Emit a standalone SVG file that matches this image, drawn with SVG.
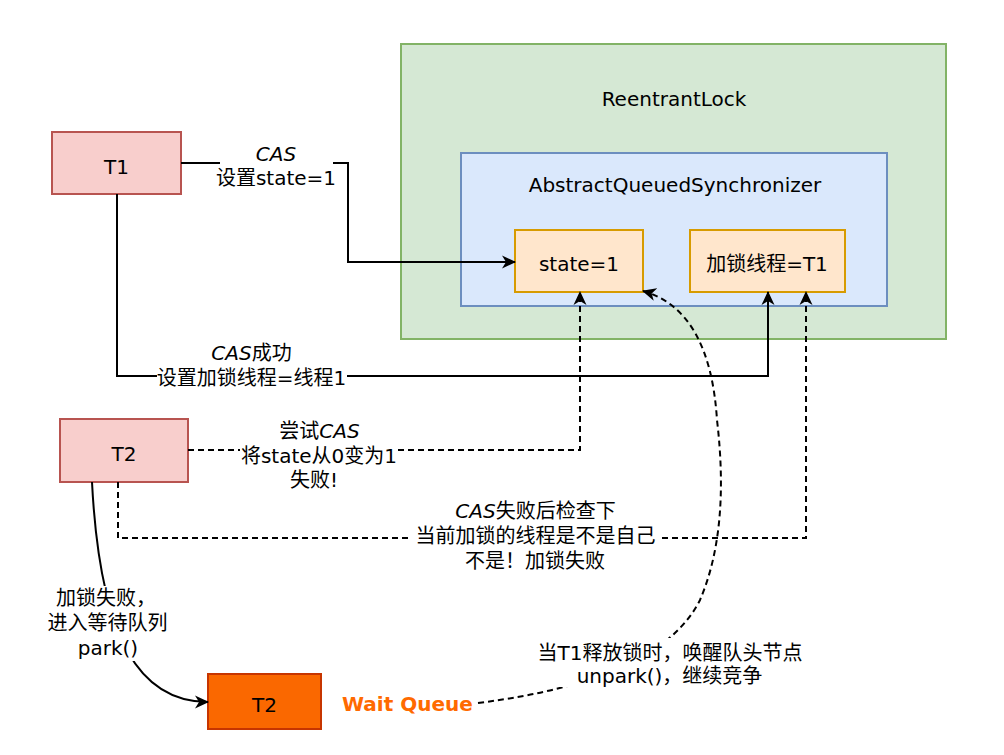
<svg xmlns="http://www.w3.org/2000/svg" width="1004" height="755" viewBox="0 0 1004 755">
<defs>
<style>
text{font-family:"DejaVu Sans","Noto Sans CJK SC",sans-serif;font-size:20px;fill:#000;text-anchor:middle}
.i{font-style:italic}
.ln{fill:none;stroke:#000;stroke-width:2}
.d{stroke-dasharray:6 4}
.bg{fill:#fff}
.wq{fill:#FF6A00;font-weight:bold;text-anchor:start}
</style>
<marker id="ar" viewBox="0 0 14 14" refX="13" refY="7" markerWidth="14" markerHeight="14" markerUnits="userSpaceOnUse" orient="auto">
<path d="M0,0.5 L14,7 L0,13.5 L4,7 Z" fill="#000"/>
</marker>
</defs>
<rect width="1004" height="755" fill="#fff"/>
<g id="reentrantlock">
<rect x="401" y="44" width="545" height="295" fill="#d5e8d4" stroke="#82b366" stroke-width="2"/>
<text x="674" y="106">ReentrantLock</text>
</g>
<g id="aqs">
<rect x="461" y="153" width="426" height="153" fill="#dae8fc" stroke="#6c8ebf" stroke-width="2"/>
<text x="675" y="192">AbstractQueuedSynchronizer</text>
</g>
<g id="state">
<rect x="515" y="230" width="128" height="62" fill="#ffe6cc" stroke="#d79b00" stroke-width="2"/>
<text x="579" y="271">state=1</text>
</g>
<g id="owner">
<rect x="690" y="230" width="155" height="62" fill="#ffe6cc" stroke="#d79b00" stroke-width="2"/>
<text x="767" y="271">加锁线程=T1</text>
</g>
<g id="t1">
<rect x="52" y="132" width="129" height="62" fill="#f8cecc" stroke="#b85450" stroke-width="2"/>
<text x="116.5" y="174">T1</text>
</g>
<g id="t2">
<rect x="60" y="419" width="128" height="63" fill="#f8cecc" stroke="#b85450" stroke-width="2"/>
<text x="124" y="461">T2</text>
</g>
<g id="t2queue">
<rect x="208" y="674" width="113" height="55" fill="#fa6800" stroke="#C73500" stroke-width="2"/>
<text x="264.5" y="712">T2</text>
</g>
<g id="waitqueue">
<text class="wq" x="342" y="711">Wait Queue</text>
</g>
<g id="connectors">
<path class="ln" d="M181,163 H348 V262 H515" marker-end="url(#ar)"/>
<path class="ln" d="M117,194 V376 H768 V292" marker-end="url(#ar)"/>
<path class="ln d" d="M188,450 H580 V292" marker-end="url(#ar)"/>
<path class="ln d" d="M118,482 V538 H806 V292" marker-end="url(#ar)"/>
<path class="ln" d="M92,482 C100,640 140,702 208,702" marker-end="url(#ar)"/>
<path class="ln d" d="M478,703 Q660,680 700,600 Q730,530 717,420 Q710,310 643,291" marker-end="url(#ar)"/>

<rect class="bg" x="220" y="142" width="113" height="48"/>
<text x="276" y="161"><tspan class="i">CAS</tspan></text>
<text x="276" y="185">设置state=1</text>

<rect class="bg" x="157" y="341" width="190" height="49"/>
<text x="251.5" y="360"><tspan class="i">CAS</tspan>成功</text>
<text x="251.5" y="385">设置加锁线程=线程1</text>

<rect class="bg" x="240" y="418" width="158" height="74"/>
<text x="319.5" y="438">尝试<tspan class="i">CAS</tspan></text>
<text x="319" y="463">将state从0变为1</text>
<text x="314" y="487">失败!</text>

<rect class="bg" x="411" y="499" width="249" height="74"/>
<text x="535.5" y="518"><tspan class="i">CAS</tspan>失败后检查下</text>
<text x="535.5" y="543">当前加锁的线程是不是自己</text>
<text x="535" y="568">不是！加锁失败</text>

<rect class="bg" x="43" y="586" width="129" height="75"/>
<text x="106" y="605">加锁失败，</text>
<text x="107.5" y="630">进入等待队列</text>
<text x="108" y="655">park()</text>

<rect class="bg" x="531" y="638" width="278" height="49"/>
<text x="670" y="660">当T1释放锁时，唤醒队头节点</text>
<text x="669.5" y="683">unpark()，继续竞争</text>
</g>
</svg>
